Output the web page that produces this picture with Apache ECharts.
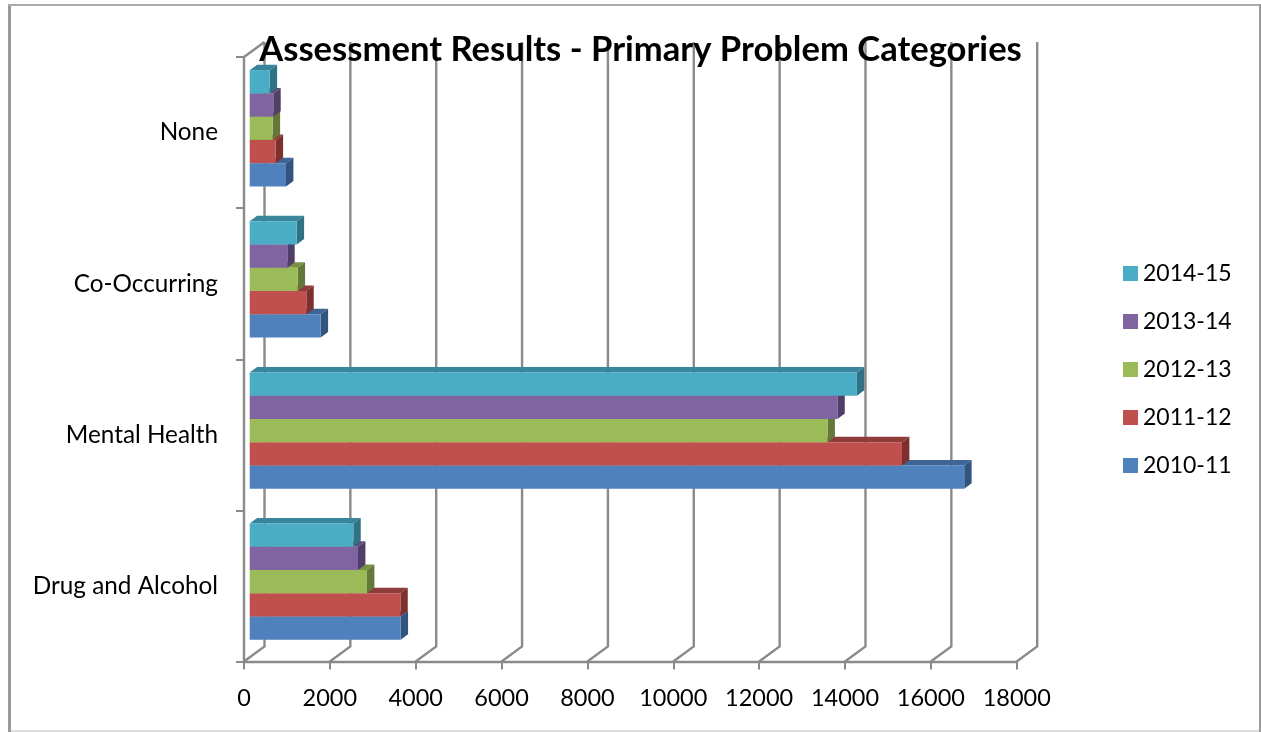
<!DOCTYPE html>
<html>
<head>
<meta charset="utf-8">
<style>
  html, body { margin: 0; padding: 0; background: #fff; }
  #chart { width: 1261px; height: 732px; }
</style>
<script src="https://cdn.jsdelivr.net/npm/echarts@6/dist/echarts.min.js"></script>
</head>
<body>
<div id="chart"></div>
<script>
var categories = ['Drug and Alcohol', 'Mental Health', 'Co-Occurring', 'None'];
var years = ['2010-11', '2011-12', '2012-13', '2013-14', '2014-15'];
var values2010 = [3517, 16645, 1654, 846];
var values2011 = [3510, 15195, 1319, 606];
var values2012 = [2732, 13460, 1118, 536];
var values2013 = [2523, 13690, 876, 550];
var values2014 = [2414, 14145, 1095, 466];
var xTicks = [0, 2000, 4000, 6000, 8000, 10000, 12000, 14000, 16000, 18000];

var allValues = [values2010, values2011, values2012, values2013, values2014];
var colors = ['#4F81BD', '#C0504D', '#9BBB59', '#8064A2', '#4BACC6'];
var topColors = ['#3E6596', '#8F3B39', '#779045', '#5F4A79', '#38869B'];
var sideColors = ['#32547F', '#7E302E', '#64783A', '#503E68', '#2F7286'];

var fontName = 'Lato';
var gridColor = '#8A8A8A';

// 3d look of the excel chart: wall is pushed back, bars sit a bit inside the depth
var wallDx = 20.5, wallDy = -15;
var barDx = 5.7, barDy = -4.3;
var depthDx = 7.4, depthDy = -5.4;

function renderWall (params, api) {
  var x = api.coord([api.value(0), 0])[0];
  var rect = params.coordSys;
  var bottom = rect.y + rect.height;
  var top = rect.y;
  var children = [{
    type: 'polyline',
    shape: { points: [[x, bottom], [x + wallDx, bottom + wallDy], [x + wallDx, top + wallDy]] },
    style: { stroke: gridColor, lineWidth: 2.4, fill: null }
  }];
  // left wall's top edge
  if (api.value(0) === 0) {
    children.push({
      type: 'line',
      shape: { x1: x, y1: top, x2: x + wallDx, y2: top + wallDy },
      style: { stroke: gridColor, lineWidth: 2.4 }
    });
  }
  return { type: 'group', children: children };
}

function makeBarRender (idx) {
  return function (params, api) {
    var cat = api.value(1);
    var start = api.coord([0, cat]);
    var end = api.coord([api.value(0), cat]);
    var h = api.size([0, 1])[1] / 6.5;
    var x0 = start[0] + barDx;
    var x1 = end[0] + barDx;
    var yb = start[1] + barDy + 2.5 * h - idx * h;
    var yt = yb - h;
    return {
      type: 'group',
      children: [
        {
          type: 'polygon',
          shape: { points: [[x0, yt], [x0 + depthDx, yt + depthDy], [x1 + depthDx, yt + depthDy], [x1, yt]] },
          style: { fill: topColors[idx] }
        },
        {
          type: 'polygon',
          shape: { points: [[x1, yt], [x1 + depthDx, yt + depthDy], [x1 + depthDx, yb + depthDy], [x1, yb]] },
          style: { fill: sideColors[idx] }
        },
        {
          type: 'rect',
          shape: { x: x0, y: yt, width: x1 - x0, height: h },
          style: { fill: colors[idx] }
        }
      ]
    };
  };
}

var series = [{
  type: 'custom',
  name: 'wall',
  silent: true,
  clip: false,
  renderItem: renderWall,
  encode: { x: 0 },
  data: xTicks.map(function (t) { return [t]; }),
  z: 1
}];
years.forEach(function (y, i) {
  series.push({
    type: 'custom',
    name: y,
    clip: false,
    renderItem: makeBarRender(i),
    encode: { x: 0, y: 1 },
    itemStyle: { color: colors[i] },
    data: allValues[i].map(function (v, c) { return [v, c]; }),
    z: 3
  });
});

function frameLine (x1, y1, x2, y2, color, width) {
  return {
    type: 'line',
    silent: true,
    z: 0,
    shape: { x1: x1, y1: y1, x2: x2, y2: y2 },
    style: { stroke: color, lineWidth: width }
  };
}

var chart = echarts.init(document.getElementById('chart'));
chart.setOption({
  animation: false,
  backgroundColor: '#fff',
  textStyle: { fontFamily: fontName },
  title: {
    text: 'Assessment Results - Primary Problem Categories',
    left: 635.5,
    top: 27,
    textAlign: 'center',
    textStyle: { fontFamily: fontName, fontSize: 34.6, fontWeight: 'bold', color: '#000' },
    z: 10
  },
  legend: {
    orient: 'vertical',
    left: 1118,
    top: 257,
    icon: 'rect',
    itemWidth: 15,
    itemHeight: 15,
    itemGap: 25,
    itemStyle: { borderWidth: 0 },
    selectedMode: false,
    data: years.slice().reverse(),
    textStyle: { fontFamily: fontName, fontSize: 23, color: '#000' }
  },
  grid: { left: 244, top: 57, width: 772.7, height: 604.5 },
  xAxis: {
    type: 'value',
    min: 0,
    max: 18000,
    interval: 2000,
    axisLine: { show: true, lineStyle: { color: gridColor, width: 2.4 } },
    axisTick: { show: true, length: 8, lineStyle: { color: gridColor, width: 2 } },
    axisLabel: {
      color: '#000',
      fontSize: 23.5,
      fontFamily: fontName,
      margin: 25,
      formatter: function (v) { return String(v); }
    },
    splitLine: { show: false }
  },
  yAxis: {
    type: 'category',
    data: categories,
    axisLine: { show: true, lineStyle: { color: gridColor, width: 2.4 } },
    axisTick: { show: true, length: 8, lineStyle: { color: gridColor, width: 2 } },
    axisLabel: { color: '#000', fontSize: 24.3, fontFamily: fontName, margin: 26, padding: [3, 0, 0, 0] },
    splitLine: { show: false }
  },
  series: series,
  graphic: [
    frameLine(9.5, 4, 9.5, 732, '#999999', 3),
    frameLine(8, 5, 1261, 5, '#ABABAB', 2),
    frameLine(1260, 4, 1260, 732, '#9A9A9A', 2),
    frameLine(11, 731, 1259, 731, '#DDDDDD', 2)
  ]
});
</script>
</body>
</html>
